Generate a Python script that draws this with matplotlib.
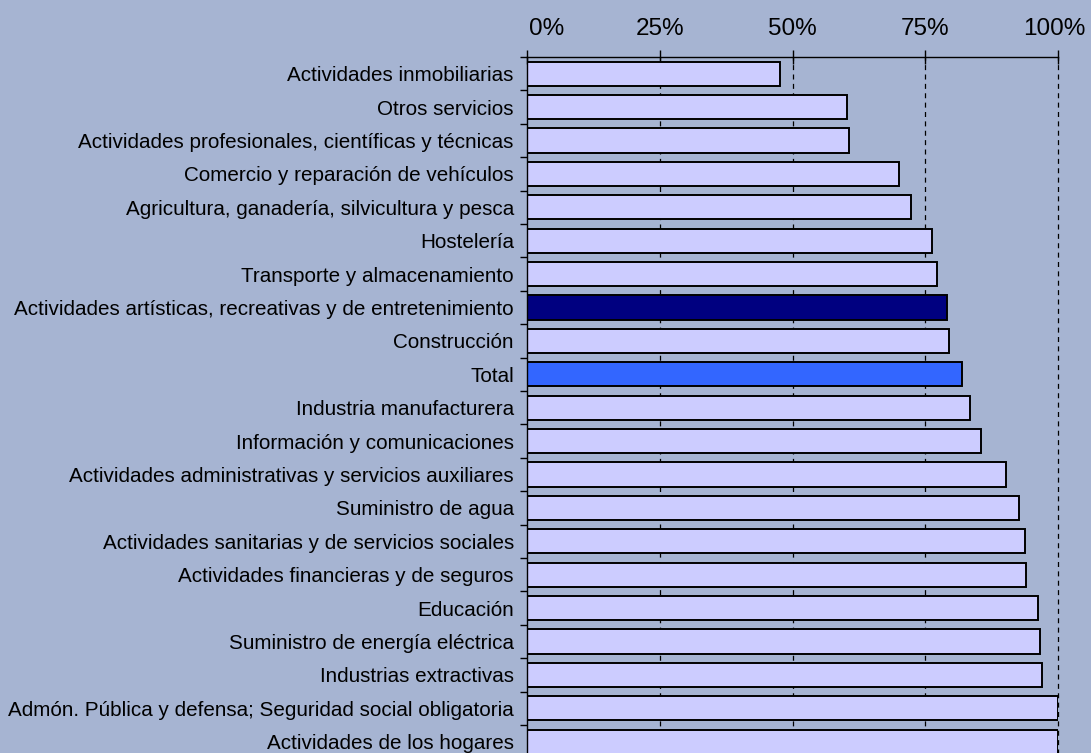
import matplotlib
matplotlib.use("Agg")
import matplotlib.pyplot as plt
from matplotlib.transforms import ScaledTranslation
import numpy as np

categories = [
    "Actividades inmobiliarias",
    "Otros servicios",
    "Actividades profesionales, científicas y técnicas",
    "Comercio y reparación de vehículos",
    "Agricultura, ganadería, silvicultura y pesca",
    "Hostelería",
    "Transporte y almacenamiento",
    "Actividades artísticas, recreativas y de entretenimiento",
    "Construcción",
    "Total",
    "Industria manufacturera",
    "Información y comunicaciones",
    "Actividades administrativas y servicios auxiliares",
    "Suministro de agua",
    "Actividades sanitarias y de servicios sociales",
    "Actividades financieras y de seguros",
    "Educación",
    "Suministro de energía eléctrica",
    "Industrias extractivas",
    "Admón. Pública y defensa; Seguridad social obligatoria",
    "Actividades de los hogares",
]
values = [47.7, 60.2, 60.6, 70.1, 72.4, 76.3, 77.3, 79.1, 79.5, 81.9, 83.4,
          85.5, 90.2, 92.7, 93.7, 94.0, 96.2, 96.6, 97.0, 100.0, 100.0]
xticks = [0, 25, 50, 75, 100]
xticklabels = ["0%", "25%", "50%", "75%", "100%"]

BG = "#A6B4D2"
colors = []
for c in categories:
    if c == "Total":
        colors.append("#3366FF")
    elif c.startswith("Actividades artísticas"):
        colors.append("#000080")
    else:
        colors.append("#CCCCFF")

plt.rcParams['font.family'] = ['Liberation Sans', 'DejaVu Sans']

fig = plt.figure(figsize=(10.91, 7.53), dpi=100, facecolor=BG)
ax = fig.add_axes([527/1091, -5.4/753, 531/1091, 701.4/753])
ax.set_facecolor(BG)

y = np.arange(len(categories))
ax.barh(y, values, height=0.72, color=colors, edgecolor="black", linewidth=1.4, zorder=3)

ax.set_xlim(0, 100)
ax.set_ylim(len(categories) - 0.5, -0.5)

ax.xaxis.tick_top()
ax.set_xticks(xticks)
ax.set_xticklabels(xticklabels, fontsize=17.5)
ax.tick_params(axis="x", direction="inout", length=10, width=1, pad=7, colors="black")
lab0 = ax.get_xticklabels()[0]
lab0.set_transform(lab0.get_transform() + ScaledTranslation(0.20, 0, fig.dpi_scale_trans))
lab4 = ax.get_xticklabels()[-1]
lab4.set_transform(lab4.get_transform() + ScaledTranslation(-0.04, 0, fig.dpi_scale_trans))

for xv in xticks[1:]:
    ax.axvline(xv, color="black", linestyle=(0, (4, 3.5)), linewidth=0.9,
               zorder=0, clip_on=False)

ax.set_yticks(y)
ax.set_yticklabels(categories, fontsize=14.9)
ax.tick_params(axis="y", which="major", length=0, pad=9.5)
ax.set_yticks(np.arange(len(categories) + 1) - 0.5, minor=True)
ax.tick_params(axis="y", which="minor", length=5, width=1, direction="out")

for s in ["right", "bottom"]:
    ax.spines[s].set_visible(False)
for s in ["top", "left"]:
    ax.spines[s].set_linewidth(1.0)
    ax.spines[s].set_color("black")
    ax.spines[s].set_zorder(4)

fig.savefig("out.png", dpi=100, facecolor=BG)
